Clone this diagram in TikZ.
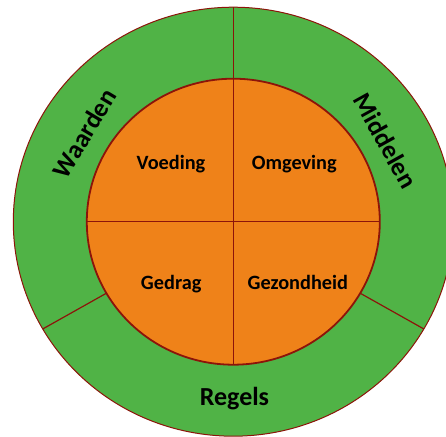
\documentclass[tikz,border=0pt]{standalone}
\usepackage{fontspec}
\setmainfont{Carlito}
\usepackage{tikz}

\definecolor{ringgreen}{RGB}{80,179,70}
\definecolor{coreorange}{RGB}{239,130,25}
\definecolor{edgered}{RGB}{140,20,10}

\tikzset{
  outerlabel/.style={font=\fontsize{26}{30}\selectfont\bfseries},
  innerlabel/.style={font=\fontsize{20.3}{24}\selectfont\bfseries, anchor=base}
}

\begin{document}
\begin{tikzpicture}[x=1pt,y=1pt]
    \useasboundingbox (-233.3,-214.3) rectangle (212.7,221.7);
    \begin{scope}
      % ring
      \draw[edgered, fill=ringgreen, line width=1pt] (0,0) ellipse [x radius=220, y radius=214.5];
      \foreach \a in {90,210,330}
        \draw[edgered, line width=1.2pt] ({146.5*cos(\a)},{143*sin(\a)}) -- ({220*cos(\a)},{214.5*sin(\a)});
      % core
      \draw[edgered, fill=coreorange, line width=1.8pt] (0,0) ellipse [x radius=146.5, y radius=143];
      \draw[edgered, line width=1.5pt] (-146.5,0) -- (146.5,0);
      \draw[edgered, line width=1.5pt] (0,-143) -- (0,143);
      \node[outerlabel, rotate=59] (waarden) at (-148.8,88.4) {Waarden};
      \node[outerlabel, rotate=-61] (middelen) at (152.5,80.9) {Middelen};
      \node[outerlabel, anchor=base] (regels) at (1.2,-184) {Regels};
      \node[innerlabel] (voeding) at (-62.3,52.4) {Voeding};
      \node[innerlabel] (omgeving) at (61,52.4) {Omgeving};
      \node[innerlabel] (gedrag) at (-62.1,-67.3) {Gedrag};
      \node[innerlabel] (gezondheid) at (64.5,-67.3) {Gezondheid};
    \end{scope}
  \end{tikzpicture}
\end{document}
